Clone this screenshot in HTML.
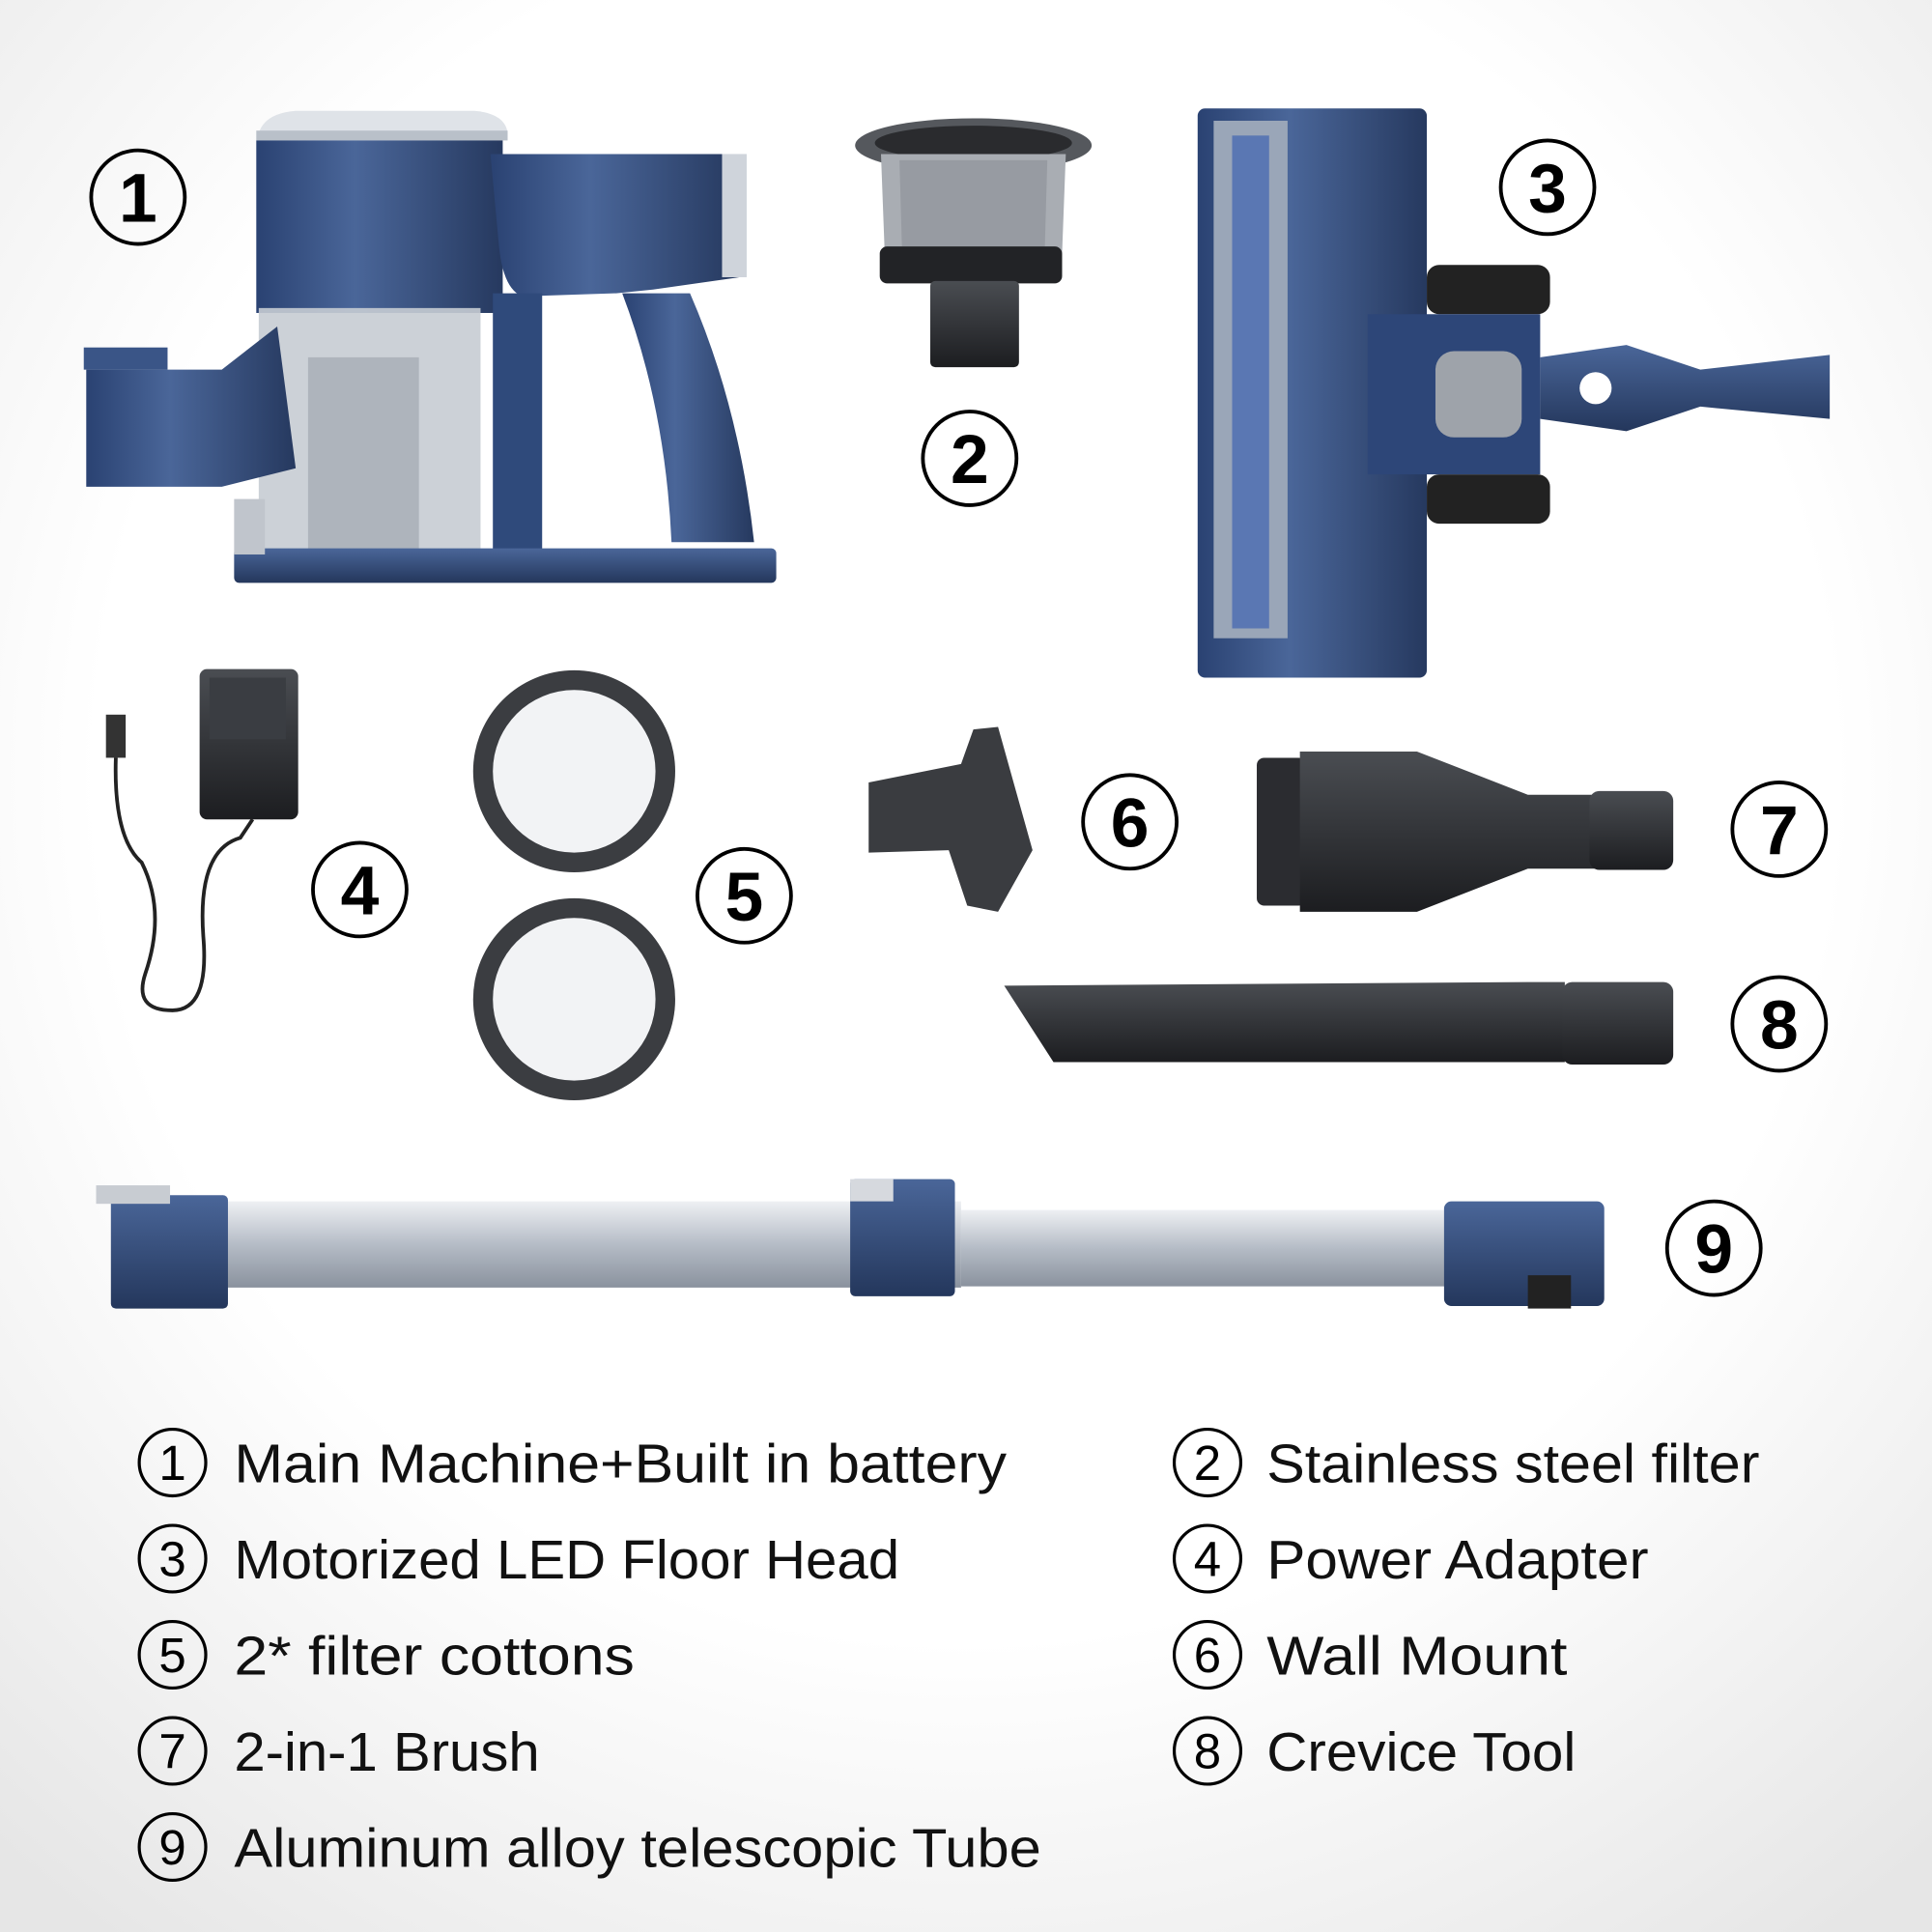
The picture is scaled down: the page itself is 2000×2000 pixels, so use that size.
<!DOCTYPE html>
<html><head><meta charset="utf-8"><style>
html,body{margin:0;padding:0;background:#fff}
svg{display:block}
text{font-family:"Liberation Sans",sans-serif}
</style></head><body>
<svg width="2000" height="2000" viewBox="0 0 1568 1568" xmlns="http://www.w3.org/2000/svg">
<defs>
<radialGradient id="bg" cx="50%" cy="40%" r="75%"><stop offset="0.6" stop-color="#ffffff"/><stop offset="1" stop-color="#e6e6e6"/></radialGradient>
<linearGradient id="blue" x1="0" x2="1"><stop offset="0" stop-color="#2a4272"/><stop offset="0.4" stop-color="#4a6699"/><stop offset="1" stop-color="#26395f"/></linearGradient>
<linearGradient id="bluev" x1="0" y1="0" x2="0" y2="1"><stop offset="0" stop-color="#4a6699"/><stop offset="1" stop-color="#24375c"/></linearGradient>
<linearGradient id="silver" x1="0" y1="0" x2="0" y2="1"><stop offset="0" stop-color="#eef0f3"/><stop offset="0.5" stop-color="#b5bcc6"/><stop offset="1" stop-color="#8a929e"/></linearGradient>
<linearGradient id="dark" x1="0" y1="0" x2="0" y2="1"><stop offset="0" stop-color="#4a4d52"/><stop offset="1" stop-color="#1c1d20"/></linearGradient>
</defs>
<rect width="1568" height="1568" fill="url(#bg)"/>

<path d="M210,108 Q215,92 240,90 L385,90 Q410,92 412,108 Z" fill="#dfe3e8"/>
<rect x="208" y="106" width="204" height="8" fill="#b9c0c9"/>
<rect x="208" y="114" width="200" height="140" fill="url(#blue)"/>
<path d="M398,125 L600,125 L600,225 L530,235 L500,238 L440,240 Q410,250 405,200 Z" fill="url(#blue)"/>
<rect x="586" y="125" width="20" height="100" fill="#cfd4db"/>
<path d="M505,238 L560,238 Q600,330 612,440 L545,440 Q540,330 505,238 Z" fill="url(#blue)"/>
<path d="M400,238 L440,238 L440,448 L400,448 Z" fill="#2f4a7b"/>
<rect x="210" y="250" width="180" height="200" fill="#c7ccd3" opacity="0.9"/>
<rect x="250" y="290" width="90" height="160" fill="#aeb4bc"/>
<rect x="190" y="445" width="440" height="28" rx="4" fill="url(#bluev)"/>
<path d="M70,300 L180,300 L225,265 L240,380 L180,395 L70,395 Z" fill="url(#blue)"/>
<rect x="68" y="282" width="68" height="18" fill="#3a5587"/>
<rect x="190" y="405" width="25" height="45" fill="#c0c5cc"/>

<ellipse cx="790" cy="118" rx="96" ry="22" fill="#55585d"/>
<ellipse cx="790" cy="116" rx="80" ry="14" fill="#2a2b2e"/>
<path d="M715,125 L865,125 L862,205 L718,205 Z" fill="#a9adb3"/>
<path d="M730,130 L850,130 L848,200 L732,200 Z" fill="#8c9096" opacity="0.6"/>
<rect x="714" y="200" width="148" height="30" rx="6" fill="#222326"/>
<rect x="755" y="228" width="72" height="70" rx="4" fill="url(#dark)"/>

<rect x="972" y="88" width="186" height="462" rx="6" fill="url(#blue)"/>
<rect x="985" y="98" width="60" height="420" fill="#9aa6b8"/>
<rect x="1000" y="110" width="30" height="400" fill="#3f64b0" opacity="0.7"/>
<rect x="1158" y="215" width="100" height="40" rx="10" fill="#222"/>
<rect x="1158" y="385" width="100" height="40" rx="10" fill="#222"/>
<rect x="1110" y="255" width="140" height="130" fill="#2d4678"/>
<rect x="1165" y="285" width="70" height="70" rx="15" fill="#9ea3aa"/>
<path d="M1250,290 L1320,280 L1380,300 L1485,288 L1485,340 L1380,330 L1320,350 L1250,340 Z" fill="url(#bluev)"/>
<circle cx="1295" cy="315" r="13" fill="#fff"/>

<rect x="162" y="543" width="80" height="122" rx="6" fill="url(#dark)"/>
<rect x="170" y="550" width="62" height="50" fill="#3a3d42"/>
<rect x="86" y="580" width="16" height="35" fill="#333"/>
<path d="M94,615 Q92,680 115,700 Q135,740 118,790 Q108,820 140,820 Q170,820 165,760 Q160,690 195,680 L205,665" fill="none" stroke="#222" stroke-width="3"/>

<circle cx="466" cy="626" r="82" fill="#3b3d41"/>
<circle cx="466" cy="626" r="66" fill="#f2f3f5"/>
<circle cx="466" cy="811" r="82" fill="#3b3d41"/>
<circle cx="466" cy="811" r="66" fill="#f2f3f5"/>

<path d="M705,635 L780,620 L790,592 L810,590 L838,690 L810,740 L785,735 L770,690 L705,692 Z" fill="#3a3c40"/>

<rect x="1020" y="615" width="40" height="120" rx="6" fill="#2b2c30"/>
<path d="M1055,610 L1150,610 L1240,645 L1300,645 L1300,705 L1240,705 L1150,740 L1055,740 Z" fill="url(#dark)"/>
<rect x="1290" y="642" width="68" height="64" rx="8" fill="url(#dark)"/>

<path d="M815,800 L1240,797 L1270,797 L1270,862 L1245,862 L855,862 Z" fill="url(#dark)"/>
<rect x="1268" y="797" width="90" height="67" rx="8" fill="url(#dark)"/>

<rect x="180" y="975" width="600" height="70" fill="url(#silver)"/>
<rect x="780" y="982" width="400" height="62" fill="url(#silver)"/>
<rect x="90" y="970" width="95" height="92" rx="4" fill="url(#bluev)"/>
<rect x="78" y="962" width="60" height="15" fill="#c8ccd2"/>
<rect x="690" y="957" width="85" height="95" rx="4" fill="url(#bluev)"/>
<rect x="690" y="957" width="35" height="18" fill="#d6d9de"/>
<rect x="1172" y="975" width="130" height="85" rx="6" fill="url(#bluev)"/>
<rect x="1240" y="1035" width="35" height="27" fill="#222"/>

<g fill="none" stroke="#000" stroke-width="3">
<circle cx="112" cy="160" r="38"/><circle cx="787" cy="372" r="38"/><circle cx="1256" cy="152" r="38"/>
<circle cx="292" cy="722" r="38"/><circle cx="604" cy="727" r="38"/><circle cx="917" cy="667" r="38"/>
<circle cx="1444" cy="673" r="38"/><circle cx="1444" cy="831" r="38"/><circle cx="1391" cy="1013" r="38"/>
</g>
<g font-size="56" font-weight="bold" text-anchor="middle" fill="#000">
<text x="112" y="180">1</text><text x="787" y="392">2</text><text x="1256" y="172">3</text>
<text x="292" y="742">4</text><text x="604" y="747">5</text><text x="917" y="687">6</text>
<text x="1444" y="693">7</text><text x="1444" y="851">8</text><text x="1391" y="1033">9</text>
</g>

<g fill="none" stroke="#000" stroke-width="2.5">
<circle cx="140" cy="1187" r="27"/><circle cx="140" cy="1265" r="27"/><circle cx="140" cy="1343" r="27"/><circle cx="140" cy="1421" r="27"/><circle cx="140" cy="1499" r="27"/>
<circle cx="980" cy="1187" r="27"/><circle cx="980" cy="1265" r="27"/><circle cx="980" cy="1343" r="27"/><circle cx="980" cy="1421" r="27"/>
</g>
<g font-size="40" text-anchor="middle" fill="#000">
<text x="140" y="1201">1</text><text x="140" y="1279">3</text><text x="140" y="1357">5</text><text x="140" y="1435">7</text><text x="140" y="1513">9</text>
<text x="980" y="1201">2</text><text x="980" y="1279">4</text><text x="980" y="1357">6</text><text x="980" y="1435">8</text>
</g>
<g font-size="44" fill="#111">
<text x="190" y="1203" textLength="627" lengthAdjust="spacingAndGlyphs">Main Machine+Built in battery</text>
<text x="190" y="1281" textLength="540" lengthAdjust="spacingAndGlyphs">Motorized LED Floor Head</text>
<text x="190" y="1359" textLength="325" lengthAdjust="spacingAndGlyphs">2* filter cottons</text>
<text x="190" y="1437" textLength="248" lengthAdjust="spacingAndGlyphs">2-in-1 Brush</text>
<text x="190" y="1515" textLength="655" lengthAdjust="spacingAndGlyphs">Aluminum alloy telescopic Tube</text>
<text x="1028" y="1203" textLength="400" lengthAdjust="spacingAndGlyphs">Stainless steel filter</text>
<text x="1028" y="1281" textLength="310" lengthAdjust="spacingAndGlyphs">Power Adapter</text>
<text x="1028" y="1359" textLength="244" lengthAdjust="spacingAndGlyphs">Wall Mount</text>
<text x="1028" y="1437" textLength="251" lengthAdjust="spacingAndGlyphs">Crevice Tool</text>
</g>
</svg>
</body></html>
